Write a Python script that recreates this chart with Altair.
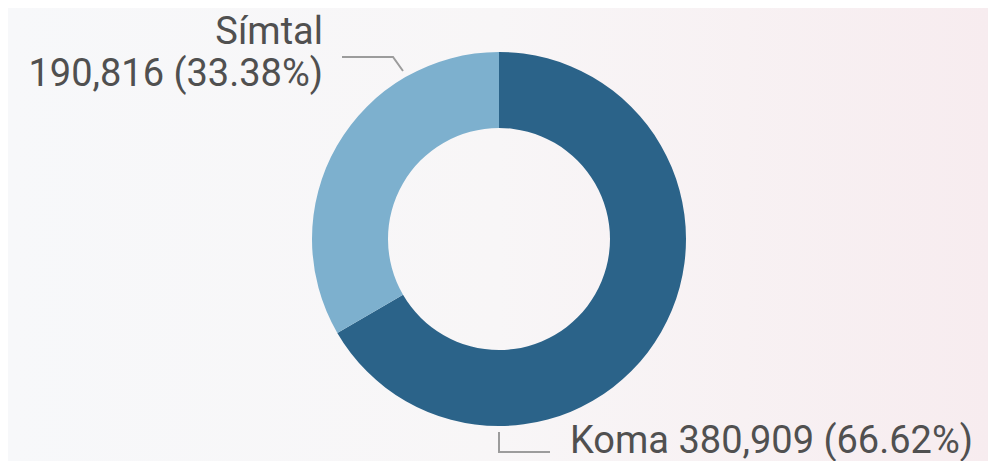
import altair as alt
import pandas as pd

# Data
categories = ["Koma", "Símtal"]
values = [380909, 190816]
percents = ["66.62%", "33.38%"]
colors = ["#2B6389", "#7DB0CE"]

# Label text (as in the reference)
label_koma = ["Koma 380,909 (66.62%)"]
label_simtal = ["Símtal", "190,816 (33.38%)"]

W, H = 980, 453
CX, CY = 491, 231
R_OUT, R_IN = 187, 111

df = pd.DataFrame({
    "category": categories,
    "value": values,
    "order": list(range(len(categories))),
})

bg = alt.Chart(pd.DataFrame({"a": [0]})).mark_rect(
    fill=alt.Gradient(
        gradient="linear",
        stops=[alt.GradientStop(color="#F7F8FA", offset=0),
               alt.GradientStop(color="#F8F6F7", offset=0.5),
               alt.GradientStop(color="#F7ECEF", offset=1)],
        x1=0, x2=1, y1=0, y2=0,
    )
).encode(x=alt.value(0), x2=alt.value(W), y=alt.value(0), y2=alt.value(H))

arcs = alt.Chart(df).mark_arc(outerRadius=R_OUT, innerRadius=R_IN).encode(
    theta=alt.Theta("value:Q", stack=True),
    order=alt.Order("order:Q"),
    color=alt.Color("category:N", scale=alt.Scale(domain=categories, range=colors), legend=None),
    x=alt.value(CX),
    y=alt.value(CY),
)

# annotation placement (label anchors, chart pixel space)
lab = pd.DataFrame({
    "text": [label_simtal[0], label_simtal[1], label_koma[0]],
    "px": [315, 315, 562],
    "py": [36, 78, 445],
    "align": ["right", "right", "left"],
})
txt_r = alt.Chart(lab[lab["align"] == "right"]).mark_text(
    align="right", baseline="alphabetic", font="Roboto", fontSize=38, color="#505050"
).encode(x=alt.X("px:Q", scale=None), y=alt.Y("py:Q", scale=None), text="text:N")
txt_l = alt.Chart(lab[lab["align"] == "left"]).mark_text(
    align="left", baseline="alphabetic", font="Roboto", fontSize=38, color="#505050"
).encode(x=alt.X("px:Q", scale=None), y=alt.Y("py:Q", scale=None), text="text:N")

lead = pd.DataFrame({
    "g": ["s", "s", "s", "k", "k", "k"],
    "i": [0, 1, 2, 0, 1, 2],
    "px": [334, 385, 395, 491, 491, 542],
    "py": [49, 49, 63, 424, 444, 444],
})
lines = alt.Chart(lead).mark_line(color="#9C9C9C", strokeWidth=2).encode(
    x=alt.X("px:Q", scale=None), y=alt.Y("py:Q", scale=None),
    detail="g:N", order="i:Q",
)

chart = alt.layer(bg, arcs, lines, txt_r, txt_l).properties(
    width=W, height=H,
    autosize=alt.AutoSizeParams(type="none"),
    padding=0,
    background="#F7F7F9",
).configure_view(stroke=None)

chart.save("out.html", embed_options={"renderer": "svg", "actions": False})
